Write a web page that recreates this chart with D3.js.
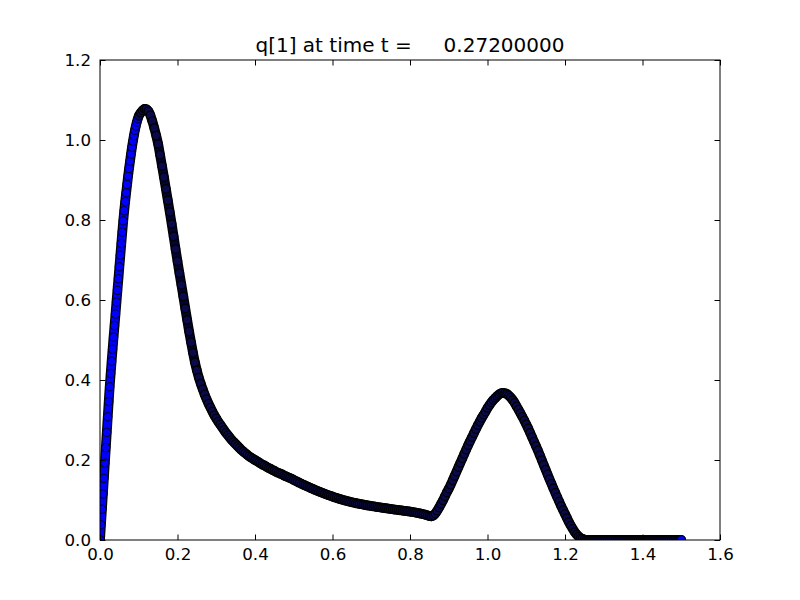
<!DOCTYPE html>
<html>
<head>
<meta charset="utf-8">
<script src="https://cdn.jsdelivr.net/npm/d3@7"></script>
<style>
  html, body { margin: 0; padding: 0; background: #ffffff; }
  svg { display: block; }
  text { font-family: "DejaVu Sans", sans-serif; fill: #000; }
</style>
</head>
<body>
<svg id="chart" width="800" height="600"></svg>
<script>
// ---- data ----
const titleText = "q[1] at time t =     0.27200000";
const xTicks = [0.0, 0.2, 0.4, 0.6, 0.8, 1.0, 1.2, 1.4, 1.6];
const yTicks = [0.0, 0.2, 0.4, 0.6, 0.8, 1.0, 1.2];
const xTickLabels = ["0.0", "0.2", "0.4", "0.6", "0.8", "1.0", "1.2", "1.4", "1.6"];
const yTickLabels = ["0.0", "0.2", "0.4", "0.6", "0.8", "1.0", "1.2"];

// steep rising front (finer spacing)
const xRise = [0, 0.0025, 0.005, 0.0075, 0.01, 0.0125, 0.015, 0.0175, 0.02, 0.0225,
  0.025, 0.0275, 0.03, 0.0325, 0.035, 0.0375, 0.04, 0.0425, 0.045, 0.0475,
  0.05, 0.0525, 0.055, 0.0575, 0.06, 0.0625, 0.065, 0.0675, 0.07, 0.0725,
  0.075, 0.0775, 0.08, 0.0825, 0.085, 0.0875, 0.09, 0.0925, 0.095, 0.0975];
const qRise = [0.000, 0.038, 0.077, 0.115, 0.154, 0.192, 0.231, 0.269, 0.308, 0.346,
  0.383, 0.416, 0.447, 0.477, 0.507, 0.536, 0.565, 0.595, 0.624, 0.653,
  0.683, 0.712, 0.741, 0.770, 0.798, 0.823, 0.846, 0.868, 0.889, 0.910,
  0.929, 0.947, 0.965, 0.982, 0.997, 1.011, 1.024, 1.035, 1.045, 1.053];

// rest of the profile, x = 0.100 ... 1.500 every 0.005
const xRest = d3.range(281).map(i => +(0.1 + i * 0.005).toFixed(3));
const qRest = [
  1.060, 1.068, 1.074, 1.078, 1.077, 1.072, 1.062, 1.047, 1.030, 1.011,
  0.990, 0.963, 0.935, 0.907, 0.878, 0.849, 0.820, 0.790, 0.759, 0.727,
  0.697, 0.667, 0.638, 0.609, 0.579, 0.550, 0.521, 0.494, 0.468, 0.444,
  0.424, 0.406, 0.391, 0.377, 0.364, 0.352, 0.341, 0.331, 0.321, 0.312,
  0.304, 0.296, 0.289, 0.282, 0.275, 0.268, 0.262, 0.256, 0.250, 0.245,
  0.240, 0.235, 0.230, 0.225, 0.221, 0.217, 0.213, 0.209, 0.206, 0.203,
  0.200, 0.197, 0.194, 0.191, 0.188, 0.186, 0.183, 0.180, 0.178, 0.175,
  0.173, 0.170, 0.168, 0.166, 0.164, 0.161, 0.159, 0.157, 0.155, 0.153,
  0.150, 0.1476, 0.1452, 0.1428, 0.1405, 0.1382, 0.1360, 0.1338, 0.1316, 0.1294,
  0.1272, 0.1252, 0.1232, 0.1212, 0.1193, 0.1174, 0.1155, 0.1137, 0.1119, 0.1101,
  0.1084, 0.1068, 0.1052, 0.1037, 0.1022, 0.1008, 0.0994, 0.0981, 0.0968, 0.0956,
  0.0944, 0.0933, 0.0922, 0.0912, 0.0902, 0.0893, 0.0884, 0.0875, 0.0866, 0.0858,
  0.0850, 0.0842, 0.0834, 0.0826, 0.0818, 0.0811, 0.0804, 0.0797, 0.0790, 0.0783,
  0.0776, 0.0769, 0.0762, 0.0756, 0.0749, 0.0743, 0.0736, 0.0729, 0.0723, 0.0716,
  0.0710, 0.0702, 0.0694, 0.0685, 0.0676, 0.0666, 0.0655, 0.0643, 0.0630, 0.0615,
  0.0600, 0.0590, 0.061, 0.066, 0.073, 0.081, 0.090, 0.099, 0.109, 0.119,
  0.128, 0.138, 0.149, 0.160, 0.171, 0.182, 0.193, 0.204, 0.215, 0.226,
  0.237, 0.247, 0.257, 0.267, 0.277, 0.287, 0.296, 0.305, 0.313, 0.321,
  0.330, 0.337, 0.344, 0.350, 0.355, 0.360, 0.364, 0.367, 0.368, 0.367,
  0.365, 0.361, 0.356, 0.350, 0.343, 0.334, 0.326, 0.317, 0.308, 0.299,
  0.289, 0.279, 0.268, 0.257, 0.246, 0.235, 0.224, 0.212, 0.200, 0.188,
  0.176, 0.164, 0.152, 0.141, 0.129, 0.118, 0.107, 0.096, 0.085, 0.075,
  0.065, 0.055, 0.045, 0.036, 0.028, 0.020, 0.014, 0.009, 0.005, 0.003,
  0.001, 0.000, 0.000, 0.000, 0.000, 0.000, 0.000, 0.000, 0.000, 0.000,
  0.000, 0.000, 0.000, 0.000, 0.000, 0.000, 0.000, 0.000, 0.000, 0.000,
  0.000, 0.000, 0.000, 0.000, 0.000, 0.000, 0.000, 0.000, 0.000, 0.000,
  0.000, 0.000, 0.000, 0.000, 0.000, 0.000, 0.000, 0.000, 0.000, 0.000,
  0.000, 0.000, 0.000, 0.000, 0.000, 0.000, 0.000, 0.000, 0.000, 0.000,
  0.000
];

// ---- layout ----
const W = 800, H = 600;
const L = 100, R = 720, T = 60, B = 540;

const svg = d3.select("#chart");
svg.append("rect").attr("width", W).attr("height", H).attr("fill", "#ffffff");

const x = d3.scaleLinear().domain([0, 1.6]).range([L, R]);
const y = d3.scaleLinear().domain([0, 1.2]).range([B, T]);

const riseData = xRise.map((v, i) => ({ x: v, q: qRise[i] }));
const restData = xRest.map((v, i) => ({ x: v, q: qRest[i] }));
const allData = riseData.concat(restData);

svg.append("defs").append("clipPath").attr("id", "clip")
  .append("rect").attr("x", L).attr("y", T).attr("width", R - L).attr("height", B - T);

const plot = svg.append("g").attr("clip-path", "url(#clip)");

const line = d3.line().x(d => x(d.x)).y(d => y(d.q)).curve(d3.curveMonotoneX);

// dense marker band: dark outline underneath
plot.append("path").datum(allData).attr("d", line)
  .attr("fill", "none").attr("stroke", "#000000").attr("stroke-width", 9.8)
  .attr("stroke-linecap", "round").attr("stroke-linejoin", "round");
// interior where overlapping edges dominate (dark navy)
plot.append("path").datum(restData).attr("d", line)
  .attr("fill", "none").attr("stroke", "#04042e").attr("stroke-width", 7.6)
  .attr("stroke-linecap", "round").attr("stroke-linejoin", "round");
// interior along the steep front, where marker fills show through
plot.append("path").datum(riseData.concat([restData[0]])).attr("d", line)
  .attr("fill", "none").attr("stroke", "#0000ff").attr("stroke-width", 7.2)
  .attr("stroke-linecap", "butt").attr("stroke-linejoin", "round");

// markers on the steep front
plot.selectAll("circle.rise").data(riseData).enter().append("circle")
  .attr("class", "rise")
  .attr("cx", d => x(d.x)).attr("cy", d => y(d.q)).attr("r", 4.2)
  .attr("fill", "#0000ff").attr("stroke", "#000000").attr("stroke-width", 0.9);

// markers elsewhere: heavy overlap leaves mostly the edges visible
plot.selectAll("circle.rest").data(restData).enter().append("circle")
  .attr("class", "rest")
  .attr("cx", d => x(d.x)).attr("cy", d => y(d.q)).attr("r", 4.2)
  .attr("fill", "#0a0a4a").attr("stroke", "#000000").attr("stroke-width", 1.2);

// final marker is drawn last and shows its blue fill
const last = restData[restData.length - 1];
plot.append("circle").attr("cx", x(last.x)).attr("cy", y(last.q)).attr("r", 4.2)
  .attr("fill", "#0000ff").attr("stroke", "#000000").attr("stroke-width", 0.8);

// ---- axes (matplotlib classic: ticks inside on all four sides) ----
const tickLen = 5.5;
const axBottom = d3.axisBottom(x).tickValues(xTicks).tickSizeInner(-tickLen).tickSizeOuter(0)
  .tickPadding(8).tickFormat((d, i) => xTickLabels[i]);
const axTop = d3.axisTop(x).tickValues(xTicks).tickSizeInner(-tickLen).tickSizeOuter(0)
  .tickFormat("");
const axLeft = d3.axisLeft(y).tickValues(yTicks).tickSizeInner(-tickLen).tickSizeOuter(0)
  .tickPadding(9).tickFormat((d, i) => yTickLabels[i]);
const axRight = d3.axisRight(y).tickValues(yTicks).tickSizeInner(-tickLen).tickSizeOuter(0)
  .tickFormat("");

function style(g) {
  g.select(".domain").remove();
  g.selectAll(".tick line").attr("stroke", "#000").attr("stroke-width", 1);
  g.selectAll(".tick text").attr("font-family", "DejaVu Sans, sans-serif")
    .attr("font-size", "16.67px").attr("fill", "#000");
}
svg.append("g").attr("transform", `translate(0,${B})`).call(axBottom).call(style);
svg.append("g").attr("transform", `translate(0,${T})`).call(axTop).call(style);
svg.append("g").attr("transform", `translate(${L},0)`).call(axLeft).call(style);
svg.append("g").attr("transform", `translate(${R},0)`).call(axRight).call(style);

// frame
svg.append("rect").attr("x", L).attr("y", T).attr("width", R - L).attr("height", B - T)
  .attr("fill", "none").attr("stroke", "#000").attr("stroke-width", 1);

// title
svg.append("text").attr("x", (L + R) / 2).attr("y", 52)
  .attr("text-anchor", "middle").attr("font-size", "20px")
  .attr("xml:space", "preserve").style("white-space", "pre")
  .text(titleText);
</script>
</body>
</html>
